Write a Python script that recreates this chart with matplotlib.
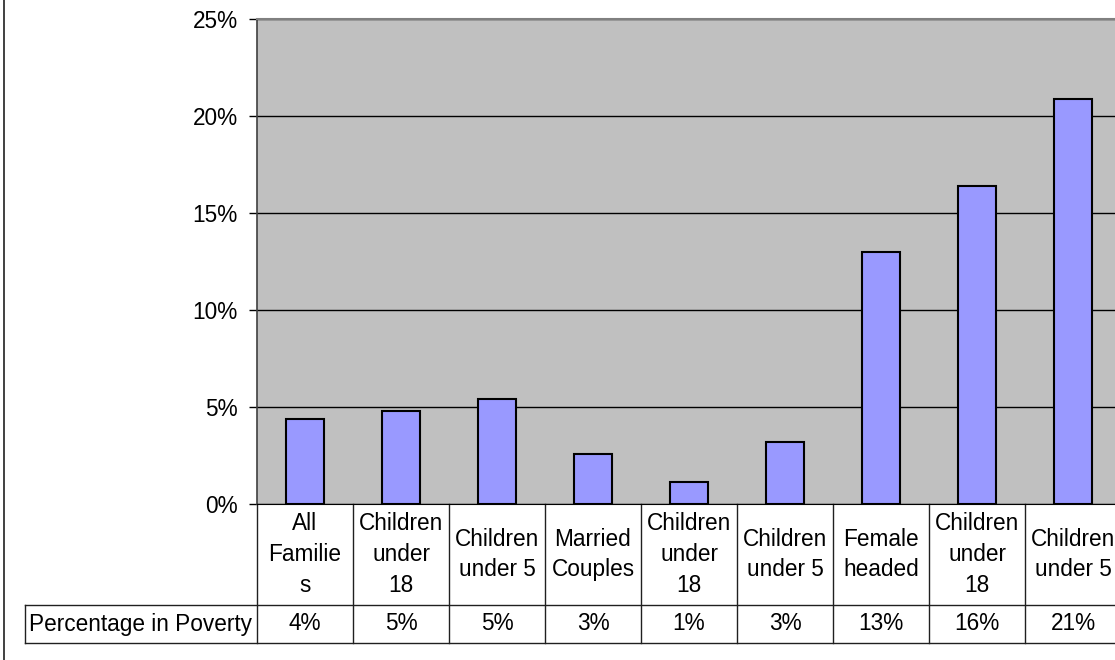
import matplotlib
matplotlib.use('Agg')
import matplotlib.pyplot as plt
import matplotlib.transforms as mtransforms
from matplotlib.lines import Line2D
from matplotlib.ticker import FuncFormatter
import numpy as np

# data
categories = ['All\nFamilie\ns', 'Children\nunder\n18', 'Children\nunder 5',
              'Married\nCouples', 'Children\nunder\n18', 'Children\nunder 5',
              'Female\nheaded', 'Children\nunder\n18', 'Children\nunder 5']
poverty = [0.044, 0.048, 0.054, 0.026, 0.0115, 0.032, 0.130, 0.164, 0.209]
table_labels = ['4%', '5%', '5%', '3%', '1%', '3%', '13%', '16%', '21%']
row_name = 'Percentage in Poverty'

plt.rcParams['font.family'] = ['Liberation Sans', 'DejaVu Sans']
fs = 16.3

W, H = 1115, 660
fig = plt.figure(figsize=(W / 100, H / 100), dpi=100)
left, right, top, bottom = 257, 1121, 19, 504
ax = fig.add_axes([left / W, 1 - bottom / H, (right - left) / W, (bottom - top) / H])

x = np.arange(len(poverty))
ax.set_facecolor('#c0c0c0')
ax.bar(x, poverty, width=0.4, color='#9999ff', edgecolor='black', linewidth=1.5, zorder=3)

ax.set_xlim(-0.5, len(poverty) - 0.5)
ax.set_ylim(0, 0.25)
ax.set_yticks(np.arange(0, 0.26, 0.05))
ax.yaxis.set_major_formatter(FuncFormatter(lambda v, p: '%d%%' % round(v * 100)))
ax.tick_params(axis='y', direction='out', length=6, width=1, labelsize=fs, pad=8)
ax.set_xticks([])
ax.yaxis.grid(True, color='black', linewidth=1)
ax.set_axisbelow(True)

ax.spines['top'].set_color('#808080')
ax.spines['top'].set_linewidth(1.5)
ax.spines['left'].set_color('#404040')
ax.spines['left'].set_linewidth(1.2)
ax.spines['right'].set_visible(False)
ax.spines['bottom'].set_color('black')

# data table below the plot
trans = mtransforms.blended_transform_factory(ax.transData, ax.transAxes)
ph = bottom - top
y_mid = -(605 - bottom) / ph
y_bot = -(643 - bottom) / ph
lc = '#202020'

edges = np.arange(len(poverty) + 1) - 0.5
for e in edges:
    ax.add_line(Line2D([e, e], [0, y_bot], transform=trans, color=lc, lw=1, clip_on=False))

x0 = -0.5 - (left - 25) / ((right - left) / len(poverty))
for yy in (y_mid, y_bot):
    ax.add_line(Line2D([x0, edges[-1]], [yy, yy], transform=trans, color=lc, lw=1, clip_on=False))
ax.add_line(Line2D([x0, x0], [y_mid, y_bot], transform=trans, color=lc, lw=1, clip_on=False))

for i, lab in enumerate(categories):
    ax.text(i, y_mid / 2, lab, transform=trans, ha='center', va='center',
            fontsize=fs, linespacing=1.42)
    ax.text(i, (y_mid + y_bot) / 2, table_labels[i], transform=trans,
            ha='center', va='center', fontsize=fs)
ax.text((x0 - 0.5) / 2, (y_mid + y_bot) / 2, row_name, transform=trans,
        ha='center', va='center', fontsize=fs)

# chart area frame on the left
fig.add_artist(Line2D([4 / W, 4 / W], [0, 1], transform=fig.transFigure, color='#202020', lw=1.2))

fig.savefig('out.png', dpi=100)
